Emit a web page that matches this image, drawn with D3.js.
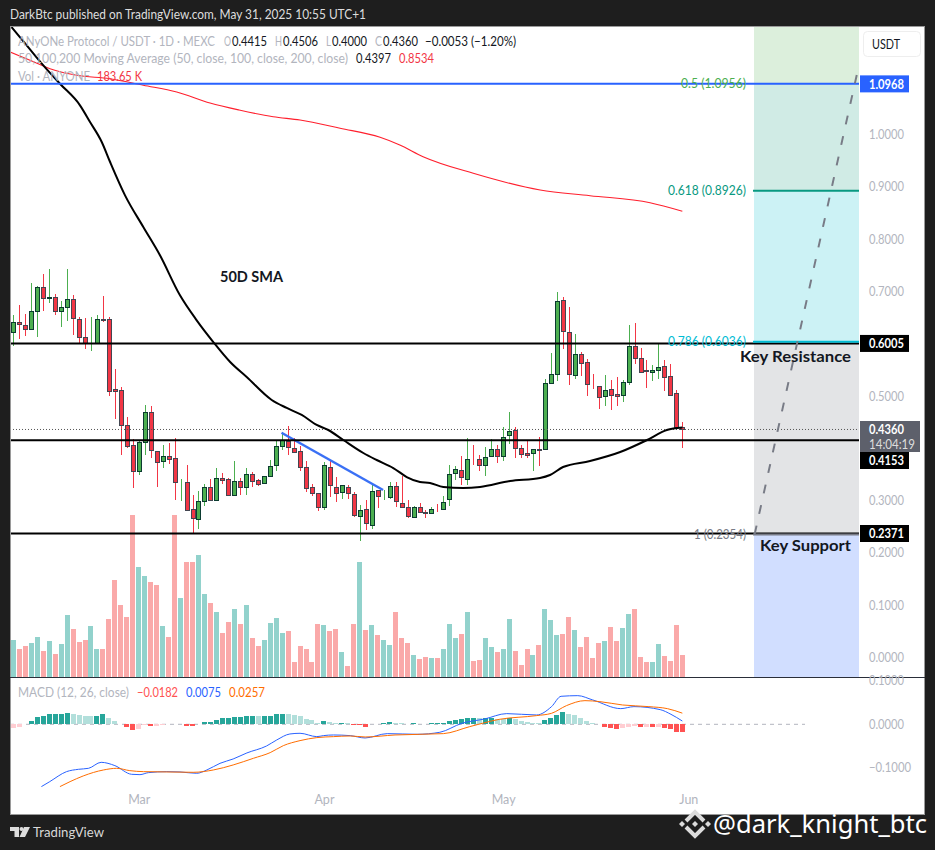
<!DOCTYPE html>
<html><head><meta charset="utf-8">
<style>html,body{margin:0;padding:0;background:#1e1e1e}svg{display:block}text{font-family:"Lato","Noto Sans",sans-serif}</style>
<script src="https://cdnjs.cloudflare.com/ajax/libs/d3/7.8.5/d3.min.js"></script>
</head><body><svg id="c" width="935" height="850"></svg>
<script>
const opens=[.6217,.6408,.6364,.6274,.6618,.7077,.6867,.6899,.6618,.6695,
.6848,.6478,.6121,.6007,.6007,.6466,.6466,.5127,.5108,.4439,
.4056,.3559,.4114,.4687,.3942,.3750,.3846,.3808,.3349,.3349,
.2833,.2641,.2986,.3253,.3005,.3425,.3406,.3100,.3368,.3266,
.3502,.3387,.3330,.3464,.3674,.4037,.4133,.3999,.3942,.3636,
.3253,.3138,.2871,.3636,.3253,.3158,.3253,.3119,.2699,.2833,
.2527,.3196,.3062,.3062,.3272,.2947,.2871,.2680,.2871,.2775,
.2756,.2833,.2833,.3024,.3521,.3578,.3406,.3789,.3789,.3674,
.3846,.3980,.3846,.4260,.4343,.3999,.3903,.3903,.3980,.3980,
.5242,.5414,.6829,.6217,.5395,.5796,.5643,.5223,.5184,.4993,
.5127,.5031,.5012,.5261,.5949,.5720,.5490,.5452,.5490,.5567,
.5376,.5051,.4415];
const highs=[.6548,.6740,.6567,.7160,.7103,.7332,.7428,.6950,.6816,.7428,
.6931,.6517,.6491,.6510,.6548,.6912,.6510,.5516,.5172,.4598,
.4177,.4158,.4828,.4808,.3942,.4063,.4101,.4197,.3413,.3680,
.3107,.3183,.3317,.3413,.3623,.3527,.3432,.3757,.3425,.3623,
.3547,.3406,.3464,.3776,.4158,.4305,.4426,.4190,.4044,.3757,
.3317,.3138,.3738,.3750,.3444,.3291,.3291,.3158,.2909,.3011,
.3304,.3196,.3202,.3349,.3349,.3464,.3011,.2896,.2947,.2822,
.2871,.2935,.3081,.3680,.3661,.3853,.4197,.4063,.3871,.4024,
.4177,.4063,.4407,.4694,.4407,.4063,.4139,.3980,.4209,.5325,
.5822,.6988,.6893,.6701,.6185,.5841,.5701,.5420,.5184,.5401,
.5306,.5363,.5306,.6357,.6395,.5917,.5688,.5592,.6013,.5688,
.5611,.5114,.4506];
const lows=[.5962,.6089,.6147,.6274,.6128,.6625,.6784,.6548,.6325,.6440,
.6166,.6007,.5898,.5866,.6007,.6421,.5006,.4560,.3878,.4005,
.3241,.3495,.3871,.3814,.3260,.3623,.3700,.3011,.2992,.2813,
.2361,.2457,.2896,.3005,.3005,.3323,.3100,.3100,.3107,.3107,
.3260,.3279,.3330,.3464,.3572,.3967,.3871,.3903,.3566,.3164,
.3088,.2801,.2820,.3068,.2973,.3030,.3037,.2680,.2233,.2437,
.2463,.2864,.3011,.3037,.2877,.2871,.2673,.2680,.2769,.2673,
.2756,.2788,.2813,.2896,.3393,.3298,.3298,.3680,.3566,.3470,
.3840,.3725,.3757,.4082,.3814,.3814,.3814,.3566,.3661,.3980,
.5242,.5286,.5898,.5210,.5331,.5388,.5000,.5127,.4751,.4808,
.4732,.4808,.4885,.5210,.5611,.5452,.5153,.5280,.5325,.5095,
.5012,.4375,.4000];
const closes=[.6408,.6370,.6274,.6631,.7077,.6867,.6899,.6618,.6695,.6848,
.6485,.6121,.6007,.6010,.6466,.6459,.5089,.5089,.4439,.4037,
.3559,.4114,.4687,.3961,.3731,.3846,.3789,.3349,.3352,.2813,
.2660,.2986,.3253,.3005,.3425,.3400,.3100,.3368,.3266,.3502,
.3381,.3323,.3464,.3655,.4037,.4152,.4018,.3935,.3636,.3234,
.3138,.2871,.3674,.3291,.3138,.3291,.3138,.2718,.2813,.2565,
.3177,.3081,.3065,.3272,.2986,.2871,.2699,.2871,.2775,.2772,
.2833,.2830,.2967,.3502,.3597,.3444,.3789,.3786,.3674,.3827,
.3980,.3846,.4209,.4324,.3999,.3884,.3865,.3980,.3977,.5242,
.5414,.6810,.6236,.5414,.5796,.5624,.5223,.5220,.4974,.5108,
.5012,.4993,.5261,.5949,.5720,.5452,.5487,.5490,.5548,.5357,
.5012,.4400,.4360];
const volumesK=[309,234,259,284,334,217,300,192,275,517,400,292,309,425,234,234,484,809,600,500,1351,917,842,792,767,425,334,1351,659,959,959,1017,692,617,542,367,459,567,442,600,325,259,309,450,492,367,384,125,259,234,125,442,434,384,400,209,92,
442,959,392,434,350,309,267,542,325,284,183,150,167,158,158,234,442,325,359,542,133,142,325,250,209,234,484,217,100,234,183,267,567,475,350,359,500,392,250,334,158,284,300,417,300,409,525,567,167,125,125,275,175,133,434,184];
const macdHist=[-77,-54,8,77,162,200,239,246,246,270,246,223,200,185,200,231,139,85,8,-62,-123,-100,-23,-38,-38,-15,8,8,8,-31,-38,0,54,62,108,154,154,177,177,200,200,193,200,200,239,246,239,216,200,131,92,38,77,54,31,31,23,
-8,-23,-54,0,15,23,46,38,23,0,31,0,8,31,31,31,85,100,123,146,154,139,139,154,131,123,139,115,69,46,31,23,92,139,216,293,231,208,146,77,23,0,-62,-92,-100,-92,-54,-38,-54,-54,-62,-62,-77,-100,-169,-182].map(v=>v/10000);

const sma50Bars=[-0.3,2.24,5.02,7.81,11.16,12.84,14.8,16.2,18.7,21.76,24.55,27.9,30.7,33.48,36.3,39.07,43.26,45.77,48.28,50.79,52.73,55.24,58.59,60.83,63.61,65.86,68.08,69.76,71.99,75.3,78.13,83.15,88.17,89.85,92.03,96.55,101.6,106.1,109.4,112];
const sma50Values=[1.2055,1.1705,1.1323,1.0971,1.0558,1.0239,.9857,.9474,.8837,.8231,.7690,.6925,.6447,.6032,.5650,.5363,.4924,.4771,.4637,.4446,.4350,.4159,.3910,.3776,.3623,.3451,.3356,.3337,.3260,.3241,.3260,.3375,.3432,.3489,.3642,.3757,.3929,.4159,.4350,.4397];
const sma200Bars=[-0.56,2.79,6.14,10.6,16.18,21.76,27.35,32.93,37.8,43.5,48,54.7,61.4,64.7,68.6,77,88.2,96.55,106.6,112];
const sma200Values=[1.1577,1.1419,1.1258,1.1132,1.1067,1.0941,1.0813,1.0602,1.0468,1.0340,1.0277,1.0119,.9946,.9799,.9576,.9258,.8939,.8830,.8696,.8534];
const macdBars=[4.7,6.1,8.9,10.9,12.6,14.7,17,19.8,21.2,22.6,25.7,27.9,30.7,32.4,34.6,36.8,39.1,42.4,44.1,46.3,48,50.8,51.9,53.6,56.4,58.9,62.6,67.6,71.4,75.1,78.9,82.6,87.6,90.1,91.7,94.5,97,101.7,103.9,108.3,110.1,112];
const macdValues=[-.1436,-.1321,-.1091,-.1037,-.1014,-.0876,-.0952,-.1152,-.1160,-.1114,-.1091,-.1098,-.1129,-.1052,-.0899,-.0799,-.0660,-.0499,-.0361,-.0223,-.0207,-.0284,-.0261,-.0246,-.0261,-.0315,-.0215,-.0230,-.0184,.0023,.0123,.0246,.0215,.0407,.0645,.0660,.0561,.0361,.0407,.0338,.0230,.0075];
const signalBars=[7.8,9.5,11.7,15.1,17.3,19.5,21.8,25.7,30.1,33.5,36.8,40.2,43,45.2,48,50.8,53.6,56.4,58.9,63.9,72,76.4,81.4,87.6,90.1,92.6,95.7,98.2,102,106.4,109.5,112];
const signalValues=[-.1436,-.1321,-.1190,-.1052,-.1014,-.1068,-.1091,-.1098,-.1106,-.1052,-.0937,-.0783,-.0653,-.0492,-.0376,-.0307,-.0284,-.0269,-.0292,-.0246,-.0215,-.0054,.0115,.0200,.0253,.0430,.0545,.0522,.0445,.0407,.0361,.0257];

const priceTicks=[0,.1,.2,.3,.5,.7,.8,.9,1];
const macdTicks=[-.1,0,.1];
const monthBars=[21,52,82,113];
const monthLabels=["Mar","Apr","May","Jun"];
const fibLevels=[1.0956,.8926,.6036,.2354];
const fibNames=["0.5 (1.0956)","0.618 (0.8926)","0.786 (0.6036)","1 (0.2354)"];
const fibWidths=[65,78,78,52];
const fibColors=["#4caf50","#089981","#00bcd4","#787b86"];
const fibFills=["#dcefdc","#d0ebe5","#ccf2f5","#e3e4e6","#d1deff"];
const fibBarRange=[124,141.6];
const projectionBars=[124.1,141.2];
const projectionPrices=[.2354,1.1137];
const trendBars=[44.9,61.9];
const trendPrices=[.4298,.3203];
const blackLevels=[.6005,.4153,.2371];
const lastPrice=.4360;

const svg=d3.select("#c");
const L=10,R=924,T=27,B=814,PR=859,DIV=677;
const x=d3.scaleLinear().domain([0,112]).range([13.33,682.33]);
const y=d3.scaleLinear().domain([0,1]).range([657.5,134.5]);
const yV=d3.scaleLinear().domain([0,1351]).range([677,515]);
const yM=d3.scaleLinear().domain([-.1,.1]).range([767.7,680.9]);
const fit=(s,w)=>s.attr("textLength",w).attr("lengthAdjust","spacingAndGlyphs");

svg.append("rect").attr("x",L+.5).attr("y",T-.5).attr("width",R-L).attr("height",B-T+1).attr("fill","#fff").attr("stroke","#9a9a9a");
const defs=svg.append("defs");
defs.append("clipPath").attr("id","main").append("rect").attr("x",L+1).attr("y",T).attr("width",PR-L-1).attr("height",DIV-T);
defs.append("clipPath").attr("id","mp").append("rect").attr("x",L+1).attr("y",DIV).attr("width",PR-L-1).attr("height",110);

const gMain=svg.append("g").attr("clip-path","url(#main)");
const fx0=x(fibBarRange[0]),fx1=x(fibBarRange[1]);
const fibEdges=[T,y(1.0968),y(fibLevels[1]),y(fibLevels[2]),y(fibLevels[3]),DIV];
fibFills.forEach((f,i)=>gMain.append("rect").attr("x",fx0).attr("y",fibEdges[i]).attr("width",fx1-fx0).attr("height",fibEdges[i+1]-fibEdges[i]).attr("fill",f));
gMain.selectAll(".v").data(volumesK).join("rect").attr("x",(d,i)=>x(i)-2.5).attr("width",5)
 .attr("y",d=>yV(d)).attr("height",d=>677-yV(d))
 .attr("fill",(d,i)=>closes[i]>=opens[i]?"#92d2cc":"#faa9a9").attr("shape-rendering","crispEdges");
const gC=gMain.append("g").attr("shape-rendering","crispEdges");
closes.forEach((c,i)=>{const o=opens[i],up=c>=o,cx=Math.round(x(i));
 gC.append("line").attr("x1",cx+.5).attr("x2",cx+.5).attr("y1",y(highs[i])).attr("y2",y(lows[i])).attr("stroke",up?"#4caf50":"#f23645");
 const t=Math.round(y(Math.max(o,c))),b=Math.round(y(Math.min(o,c)));
 gC.append("rect").attr("x",cx-1.5).attr("y",t+.5).attr("width",4).attr("height",Math.max(b-t,0))
  .attr("fill",up?"#4caf50":"#f23645").attr("stroke",up?"#0b3b30":"#434651");
});
const ln=(xs,vs,sc)=>d3.line().x((d,i)=>x(xs[i])).y(d=>sc(d)).curve(d3.curveMonotoneX)(vs);
gMain.append("path").attr("d",ln(sma200Bars,sma200Values,y)).attr("fill","none").attr("stroke","#ff1f2d").attr("stroke-width",1.1);
gMain.append("line").attr("x1",L).attr("x2",PR).attr("y1",y(lastPrice)).attr("y2",y(lastPrice)).attr("stroke","#555").attr("stroke-dasharray","1 2");
gMain.append("path").attr("d",ln(sma50Bars,sma50Values,y)).attr("fill","none").attr("stroke","#000").attr("stroke-width",2);
gMain.append("line").attr("x1",x(trendBars[0])).attr("x2",x(trendBars[1])).attr("y1",y(trendPrices[0])).attr("y2",y(trendPrices[1])).attr("stroke","#3a70f5").attr("stroke-width",2.5);
blackLevels.forEach(v=>gMain.append("line").attr("x1",L).attr("x2",PR).attr("y1",y(v)).attr("y2",y(v)).attr("stroke","#000").attr("stroke-width",2));
gMain.append("line").attr("x1",L).attr("x2",PR).attr("y1",y(1.0968)).attr("y2",y(1.0968)).attr("stroke","#2962ff").attr("stroke-width",2);
[1,2,3].forEach(i=>gMain.append("line").attr("x1",fx0-1).attr("x2",PR).attr("y1",y(fibLevels[i])).attr("y2",y(fibLevels[i])).attr("stroke",fibColors[i]).attr("stroke-width",2));
gMain.append("line").attr("x1",x(projectionBars[0])).attr("y1",y(projectionPrices[0])).attr("x2",x(projectionBars[1])).attr("y2",y(projectionPrices[1])).attr("stroke","#787b86").attr("stroke-width",2).attr("stroke-dasharray","9 12");
fibNames.forEach((t,i)=>fit(svg.append("text").attr("x",746-fibWidths[i]).attr("y",y(fibLevels[i])+(i==0?-.5:0)).attr("dy","0.35em").attr("font-size",12.5).attr("fill",fibColors[i]).text(t),fibWidths[i]));
const note=(t,xa,ya,w)=>fit(svg.append("text").attr("x",xa).attr("y",ya).attr("font-size",15).attr("font-weight",700).attr("fill","#131722").text(t),w);
note("50D SMA",220,282,63);
note("Key Resistance",740,362,111);
note("Key Support",760,551,91);

const gray="#b2b5be";
const leg=(parts,yy)=>parts.forEach(([t,xa,col,w])=>fit(svg.append("text").attr("x",xa).attr("y",yy).attr("font-size",12.5).attr("fill",col).text(t),w));
const ink="#131722";
leg([["ANyONe Protocol / USDT · 1D · MEXC",18,gray,197],["O",224,gray,7],["0.4415",232,ink,35],["H",275,gray,7],["0.4506",283,ink,35],["L",326,gray,5],["0.4000",332,ink,35],["C",375,gray,7],["0.4360",383,ink,35],["−0.0053 (−1.20%)",425,ink,91]],46);
leg([["50,100,200 Moving Average (50, close, 100, close, 200, close)",18,gray,330],["0.4397",356,ink,35],["0.8534",399,"#f23645",35]],63);
leg([["Vol · ANYONE",18,gray,72],["183.65 K",97,"#f23645",45]],80.5);
leg([["MACD (12, 26, close)",18,gray,111],["−0.0182",137,"#ff5252",41],["0.0075",186,"#2962ff",35],["0.0257",229,"#ff6d00",36]],697);

const gM=svg.append("g").attr("clip-path","url(#mp)");
gM.append("line").attr("x1",L).attr("x2",805).attr("y1",yM(0)).attr("y2",yM(0)).attr("stroke",gray).attr("stroke-dasharray","4 4");
gM.selectAll(".h").data(macdHist).join("rect").attr("x",(d,i)=>x(i)-2.5).attr("width",5)
 .attr("y",d=>Math.min(yM(d),yM(0))).attr("height",d=>Math.abs(yM(d)-yM(0)))
 .attr("shape-rendering","crispEdges")
 .attr("fill",(d,i)=>{const p=i?macdHist[i-1]:d;return d>=0?(d>=p?"#26a69a":"#b2dfdb"):(d<p?"#ff5252":"#ffcdd2")});
gM.append("path").attr("d",ln(macdBars,macdValues,yM)).attr("fill","none").attr("stroke","#2962ff").attr("stroke-width",1);
gM.append("path").attr("d",ln(signalBars,signalValues,yM)).attr("fill","none").attr("stroke","#ff6d00").attr("stroke-width",1);
svg.append("line").attr("x1",L).attr("x2",R+1).attr("y1",DIV+.5).attr("y2",DIV+.5).attr("stroke","#2a2e39");

const ax=(g)=>{g.select(".domain").remove();g.selectAll("text").attr("font-size",12.5).attr("fill",gray)};
const axFit=(g)=>g.selectAll("text").each(function(){fit(d3.select(this),this.textContent.length>6?42:35)});
svg.append("g").attr("transform",`translate(${PR},0)`).call(d3.axisRight(y).tickValues(priceTicks).tickSize(0).tickPadding(10).tickFormat(d3.format(".4f"))).call(ax).call(axFit);
svg.append("g").attr("transform",`translate(${PR},0)`).call(d3.axisRight(yM).tickValues(macdTicks).tickSize(0).tickPadding(10).tickFormat(d=>d3.format(".4f")(d).replace("-","−"))).call(ax).call(axFit);
svg.append("g").attr("transform","translate(0,787)").call(d3.axisBottom(x).tickValues(monthBars).tickSize(0).tickPadding(8).tickFormat((d,i)=>monthLabels[i])).call(ax);

const tagText=(yc,label,fill,w,weight)=>fit(svg.append("text").attr("x",869).attr("y",yc).attr("dy","0.36em").attr("font-size",12.5).attr("font-weight",weight).attr("fill",fill).text(label),w);
const tag=(v,fill,label)=>{const yc=y(v);svg.append("rect").attr("x",860).attr("y",yc-8.5).attr("width",49).attr("height",17).attr("fill",fill);tagText(yc+.5,label,"#fff",35,700)};
tag(1.0968,"#2962ff","1.0968");tag(.6005,"#000","0.6005");tag(.2371,"#000","0.2371");
svg.append("rect").attr("x",860).attr("y",421).attr("width",60).attr("height",31).attr("fill","#5d606b");
tagText(429.3,"0.4360","#fff",35,700);
tagText(444,"14:04:19","#ddd",46,400);
svg.append("rect").attr("x",860).attr("y",452).attr("width",49).attr("height",17).attr("fill","#000");
tagText(460.5,"0.4153","#fff",35,700);
svg.append("rect").attr("x",863.5).attr("y",31.5).attr("width",57).attr("height",25).attr("rx",4).attr("fill","#fff").attr("stroke","#eee");
fit(svg.append("text").attr("x",872).attr("y",44).attr("dy","0.36em").attr("font-size",12.5).attr("fill",ink).text("USDT"),28);

fit(svg.append("text").attr("x",10).attr("y",19).attr("font-size",12.5).attr("fill","#dddddd").text("DarkBtc published on TradingView.com, May 31, 2025 10:55 UTC+1"),356);
svg.append("path").attr("d","M10,827H19V837H14.5V831H10Z M24,827H30L25,837H19.5Z").attr("fill","#ddd");
svg.append("circle").attr("cx",21.5).attr("cy",829).attr("r",2).attr("fill","#ddd");
fit(svg.append("text").attr("x",33).attr("y",837).attr("font-size",14).attr("fill","#d8d8d8").text("TradingView"),71);
svg.append("path").attr("d","M686,821l9,-9l9,9 M686,827l9,9l9,-9").attr("fill","none").attr("stroke","#dcdcdc").attr("stroke-width",4);
[[682,824],[695,824],[708,824]].forEach(([a,b])=>svg.append("path").attr("d",`M${a-3},${b}l3,-3l3,3l-3,3z`).attr("fill","#dcdcdc"));
fit(svg.append("text").attr("x",713).attr("y",833).attr("font-size",25).attr("fill","#fff").style("font-family","'Noto Sans'").text("@dark_knight_btc"),214);
</script></body></html>
